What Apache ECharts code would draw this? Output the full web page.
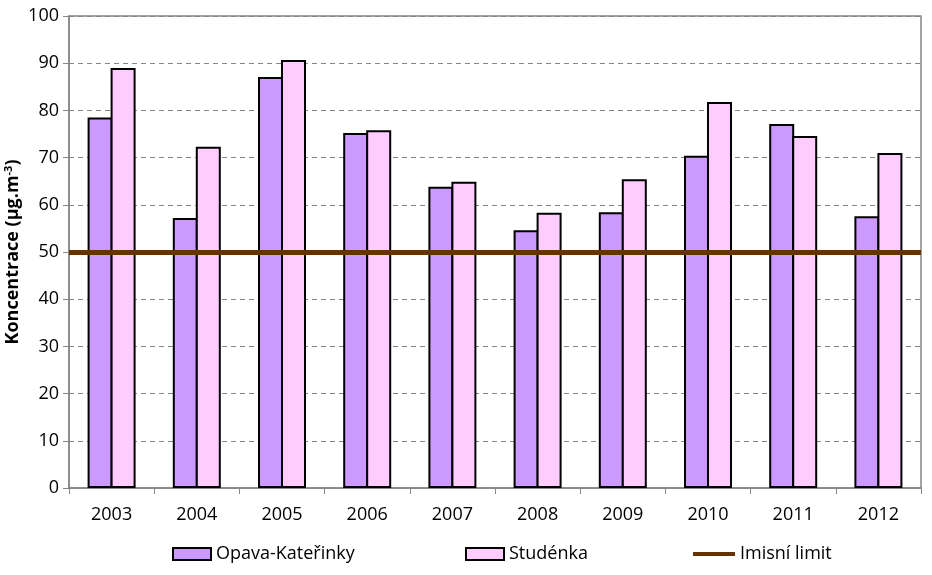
<!DOCTYPE html>
<html><head><meta charset="utf-8">
<script src="https://cdn.jsdelivr.net/npm/echarts@6/dist/echarts.min.js"></script>
<style>html,body{margin:0;padding:0;background:#fff}#c{width:932px;height:575px}</style>
</head><body><div id="c"></div>
<script>
const years = ['2003','2004','2005','2006','2007','2008','2009','2010','2011','2012'];
const opava = [78.5, 57.2, 87.1, 75.2, 63.8, 54.6, 58.4, 70.4, 77.1, 57.6];
const studenka = [89.0, 72.3, 90.7, 75.8, 64.9, 58.3, 65.4, 81.8, 74.6, 71.0];
const limitValue = 50;
const seriesNames = ['Opava-Kateřinky', 'Studénka', 'Imisní limit'];

const FONT = 'Open Sans';
const chart = echarts.init(document.getElementById('c'), null, {renderer:'canvas'});
const legendText = {fontFamily: FONT, fontSize: 18, color: '#000'};
chart.setOption({
  animation: false,
  grid: {left: 69, right: 11, top: 16, bottom: 87, show: true, borderColor: '#868686', borderWidth: 1.5,
         containLabel: false, outerBoundsMode: 'none'},
  legend: [
    {data: [{name: seriesNames[0], icon: 'rect'}], left: 167, top: 540, itemWidth: 38, itemHeight: 12, itemGap: 4, textStyle: legendText},
    {data: [{name: seriesNames[1], icon: 'rect'}], left: 460, top: 540, itemWidth: 38, itemHeight: 12, itemGap: 4, textStyle: legendText},
    {data: [{name: seriesNames[2], icon: 'rect'}], left: 688, top: 540, itemWidth: 42, itemHeight: 4, itemGap: 2, textStyle: legendText,
     itemStyle: {color: '#663300', borderWidth: 0}}
  ],
  xAxis: {
    type: 'category', data: years,
    axisLine: {lineStyle: {color: '#868686', width: 1.5}},
    axisTick: {show: true, alignWithLabel: false, length: 6, lineStyle: {color: '#868686', width: 1}},
    axisLabel: {fontFamily: FONT, fontSize: 18, color: '#000', margin: 18}
  },
  yAxis: {
    type: 'value', min: 0, max: 100, interval: 10,
    name: 'Koncentrace (μg.m{sup|-3})', nameLocation: 'middle', nameGap: 46, nameRotate: 90,
    nameMoveOverlap: false,
    nameTextStyle: {fontFamily: FONT, fontSize: 18, fontWeight: 'bold', color: '#000',
      rich: {sup: {fontFamily: FONT, fontSize: 11, fontWeight: 'bold', color: '#000', verticalAlign: 'top', padding: [0,0,9,0]}}},
    axisLine: {show: true, lineStyle: {color: '#868686', width: 1.5}},
    axisTick: {show: true, length: 6, lineStyle: {color: '#868686'}},
    axisLabel: {fontFamily: FONT, fontSize: 18, color: '#000', margin: 10},
    splitLine: {show: true, lineStyle: {color: '#868686', type: [5, 4], width: 1}}
  },
  series: [
    {name: seriesNames[0], type: 'bar', data: opava, barWidth: 25, barGap: '-8%',
     itemStyle: {color: '#cc99ff', borderColor: '#000', borderWidth: 2}},
    {name: seriesNames[1], type: 'bar', data: studenka, barWidth: 25, barGap: '-8%',
     itemStyle: {color: '#ffccff', borderColor: '#000', borderWidth: 2}},
    {name: seriesNames[2], type: 'line', data: [], itemStyle: {color: '#663300'}, lineStyle: {color: '#663300', width: 5},
     markLine: {silent: true, symbol: 'none', label: {show: false}, lineStyle: {color: '#663300', width: 5, type: 'solid'},
       data: [{yAxis: limitValue}]}, z: 5}
  ]
});
</script></body></html>
